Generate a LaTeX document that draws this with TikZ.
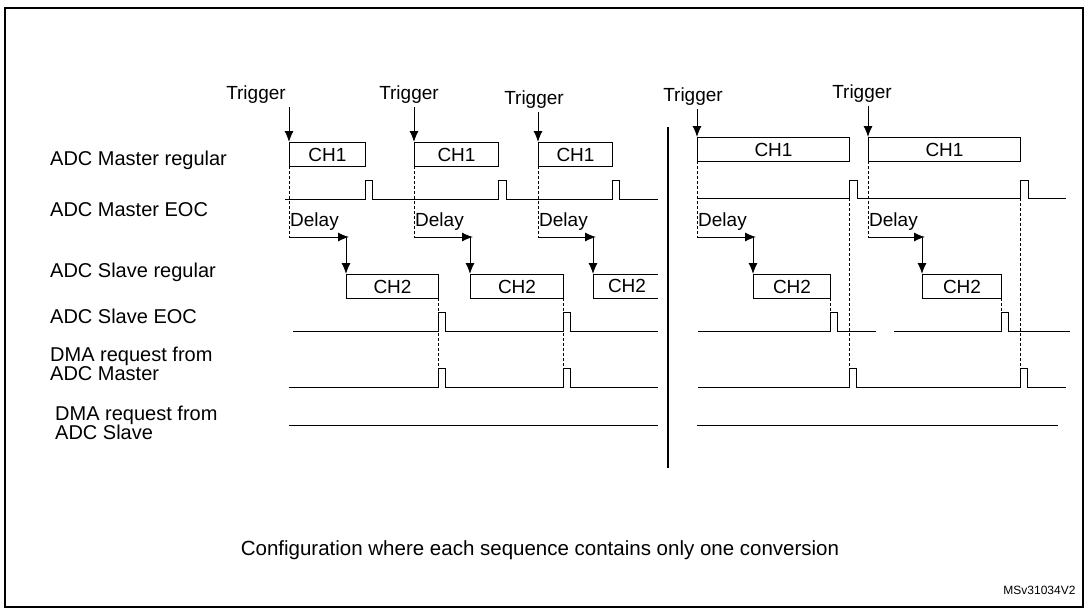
\documentclass[tikz,border=0pt]{standalone}
\usepackage{fontspec}
\setmainfont{Liberation Sans}
\usetikzlibrary{arrows.meta}
\begin{document}
\begin{tikzpicture}[x=1pt,y=-1pt,
  lab/.style={anchor=west,font=\fontsize{20}{19}\selectfont,align=left,inner sep=0},
  trig/.style={font=\fontsize{19}{20}\selectfont,inner sep=0},
  box/.style={draw,line width=1pt,font=\fontsize{19}{20}\selectfont},
  sig/.style={line width=1pt},
  arr/.style={line width=1pt,-{Latex[length=11pt,width=9pt]}},
  dsh/.style={line width=0.8pt,dash pattern=on 3pt off 2pt},
  dl/.style={anchor=south west,font=\fontsize{19}{20}\selectfont,inner sep=1pt}]
\useasboundingbox (0,0) rectangle (1087,610);
\draw[line width=1.2pt] (5,8) rectangle (1083,607);
% labels
\node[lab] (l1) at (50,160) {ADC Master regular};
\node[lab] (l2) at (50,210) {ADC Master EOC};
\node[lab] (l3) at (50,272) {ADC Slave regular};
\node[lab] (l4) at (50,316) {ADC Slave EOC};
\node[lab] (l5) at (50,364) {DMA request from\\ADC Master};
\node[lab] (l6) at (55,423) {DMA request from\\ADC Slave};
% separator
\draw[line width=1.8pt] (668,127) coordinate (s1) -- (668,468) coordinate (s2);
% triggers and CH1
\foreach \i/\tx/\ty/\ax/\chr/\top in {a/256/95/289/365/142, b/409/95/414/498/142, c/534/100/538/612/142, d/693/97/697/849/137, e/862/94/868/1020/137}{
  \node[trig] (t\i) at (\tx,\ty) {Trigger};
  \node[box,minimum width={\chr-\ax},minimum height=24pt,inner sep=0,anchor=north west] (c\i) at (\ax,\top) {CH1};
  \draw[arr] (\ax,\ty+12) -- (c\i.north west);
}
% master EOC
\draw[sig] (285,199) -- (365,199) |- (372,180) |- (498,199) |- (506,180) |- (612,199) |- (619,180) |- (658,199);
\draw[sig] (698,198) -- (849,198) |- (857,180) |- (1020,198) |- (1028,180) |- (1066,198);
% CH2 boxes
\foreach \i/\a/\b in {a/346/438,b/470/563,d/753/830,e/922/1001}{
  \node[box,minimum width={\b-\a},minimum height=24pt,inner sep=0,anchor=north west] (h\i) at (\a,274) {CH2};
}
\draw[sig] (658,274) -- (593,274) -- (593,298) -- (658,298);
\node[font=\fontsize{19}{20}\selectfont] (hc) at (627,286) {CH2};
% delays
\foreach \x/\e/\t in {289/346/166,414/470/166,538/593/166,697/753/161,868/922/161}{
  \draw[dsh] (\x,\t) -- (\x,237);
  \node[dl] at (\x,232) {Delay};
  \draw[arr] (\x,237) -- (\e+3,237);
  \draw[arr] (\e,237) -- (\e,274);
}
% slave EOC
\draw[sig] (293,331) -- (438,331) |- (445,312) |- (563,331) |- (570,312) |- (658,331);
\draw[sig] (698,331) -- (830,331) |- (837,312) |- (876,331);
\draw[sig] (894,331) -- (1001,331) |- (1008,312) |- (1070,331);
% DMA master
\draw[sig] (289,387) -- (438,387) |- (445,368) |- (563,387) |- (570,368) |- (658,387);
\draw[sig] (698,387) -- (849,387) |- (856,368) |- (1020,387) |- (1027,368) |- (1066,387);
% DMA slave
\draw[sig] (289,425) -- (658,425);
\draw[sig] (697,425) -- (1058,425);
% dashed verticals
\draw[dsh] (438,298) -- (438,368);
\draw[dsh] (563,298) -- (563,368);
\draw[dsh] (830,298) -- (830,312);
\draw[dsh] (1001,298) -- (1001,312);
\draw[dsh] (849,198) -- (849,368);
\draw[dsh] (1020,198) -- (1020,368);
% captions
\node[font=\fontsize{20.5}{22}\selectfont] (cap) at (540,550) {Configuration where each sequence contains only one conversion};
\node[font=\fontsize{12}{13}\selectfont,anchor=east] (ms) at (1079,590) {MSv31034V2};
\end{tikzpicture}
\end{document}
